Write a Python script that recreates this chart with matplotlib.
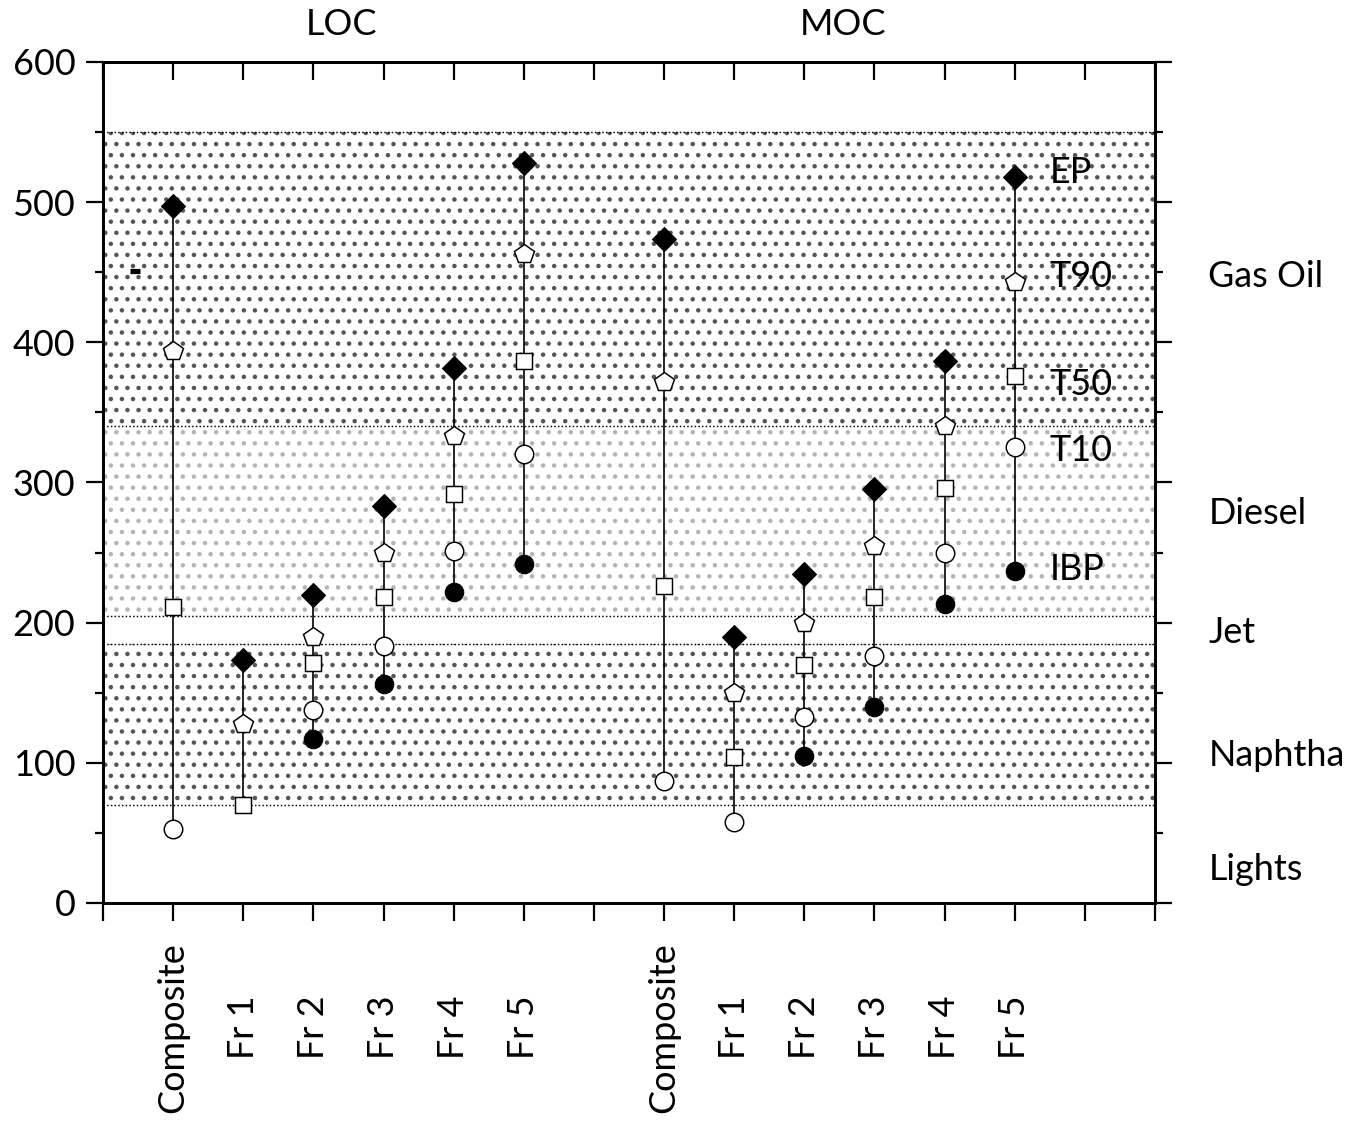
import numpy as np
import matplotlib
matplotlib.use('Agg')
import matplotlib.pyplot as plt
import matplotlib.transforms as mtransforms
from matplotlib.ticker import MultipleLocator

nan = np.nan

# sample names, two crudes
categories = ['Composite', 'Fr 1', 'Fr 2', 'Fr 3', 'Fr 4', 'Fr 5']
loc_pos = [1, 2, 3, 4, 5, 6]
moc_pos = [8, 9, 10, 11, 12, 13]

# boiling points (deg C)
loc_ep = [497, 173, 220, 283, 382, 528]
loc_t90 = [394, 128, 190, 250, 333, 463]
loc_t50 = [211, 70, 171, 218, 292, 387]
loc_t10 = [53, nan, 138, 183, 251, 320]
loc_ibp = [nan, nan, 117, 156, 222, 242]

moc_ep = [474, 190, 235, 295, 387, 518]
moc_t90 = [372, 150, 200, 255, 340, 443]
moc_t50 = [226, 104, 170, 218, 296, 376]
moc_t10 = [87, 58, 133, 176, 250, 325]
moc_ibp = [nan, nan, 105, 140, 213, 237]

# product cut ranges
band_names = ['Lights', 'Naphtha', 'Jet', 'Diesel', 'Gas Oil']
band_edges = [0, 70, 185, 205, 340, 550]
band_label_y = [24, 105, 193, 278, 447]
point_names = ['EP', 'T90', 'T50', 'T10', 'IBP']
point_label_y = [521, 447, 370, 323, 238]

plt.rcParams['font.family'] = ['Lato', 'DejaVu Sans']
plt.rcParams['hatch.linewidth'] = 1.2
FS = 19.5

fig = plt.figure(figsize=(1353 / 133, 1121 / 133), dpi=133)
ax = fig.add_axes([0.0761, 0.1945, 0.7776, 0.7502])

# shaded cut bands
band_hatch = [None, '..', None, '..', '..']
band_color = ['white', '#555555', 'white', '#b4b4b4', '#555555']
for i in range(len(band_names)):
    lo, hi = band_edges[i], band_edges[i + 1]
    if band_hatch[i]:
        ax.axhspan(lo, hi, facecolor='white', edgecolor=band_color[i],
                   hatch=band_hatch[i], lw=0, zorder=0)
for y in band_edges[1:]:
    ax.axhline(y, color='black', ls=(0, (1, 1.5)), lw=0.8, zorder=1)

# vertical range lines and markers
series = [
    (loc_pos, [loc_ep, loc_t90, loc_t50, loc_t10, loc_ibp]),
    (moc_pos, [moc_ep, moc_t90, moc_t50, moc_t10, moc_ibp]),
]
styles = [
    dict(marker='D', ms=9.2, mfc='black', mec='black', mew=0.6),
    dict(marker='p', ms=11, mfc='white', mec='black', mew=0.8),
    dict(marker='s', ms=8.5, mfc='white', mec='black', mew=0.8),
    dict(marker='o', ms=10, mfc='white', mec='black', mew=0.8),
    dict(marker='o', ms=10, mfc='black', mec='black', mew=0.6),
]
for pos, vals in series:
    arr = np.array(vals, dtype=float)
    ax.vlines(pos, np.nanmin(arr, axis=0), np.nanmax(arr, axis=0),
              color='black', lw=0.9, zorder=2)
    for v, st in zip(vals, styles):
        ax.plot(pos, v, ls='none', zorder=3, **st)

# stray mark near the top-left
ax.plot([0.46], [451], marker='_', ms=5.5, mew=2.8, color='black', zorder=3)

ax.set_xlim(0, 15)
ax.set_ylim(0, 600)

for s in ax.spines.values():
    s.set_linewidth(1.6)

ax.yaxis.set_major_locator(MultipleLocator(100))
ax.yaxis.set_minor_locator(MultipleLocator(50))
ax.tick_params(axis='y', which='major', direction='out', length=9, width=1.2,
               left=True, right=True, labelleft=True, labelright=False,
               labelsize=FS, pad=6)
ax.tick_params(axis='y', which='minor', direction='out', length=4.5, width=1.2,
               left=True, right=True)

xt = list(range(16))
xl = [''] * 16
for p, c in zip(loc_pos + moc_pos, categories + categories):
    xl[p] = c
ax.set_xticks(xt)
ax.set_xticklabels(xl, rotation=90, va='center', fontsize=FS)
ax.tick_params(axis='x', which='major', direction='out', length=9.5, width=1.2,
               bottom=True, top=False, pad=58)

top = ax.secondary_xaxis('top')
top.set_xticks(xt)
top.tick_params(direction='in', length=10, width=1.2, labeltop=False)
top.spines['top'].set_linewidth(1.6)

# group titles
trans = mtransforms.blended_transform_factory(ax.transData, ax.transAxes)
ax.text(3.4, 1.044, 'LOC', transform=trans, ha='center', va='center', fontsize=FS)
ax.text(10.55, 1.044, 'MOC', transform=trans, ha='center', va='center', fontsize=FS)

# cut names on the right
for name, y in zip(band_names, band_label_y):
    ax.text(15.76, y, name, ha='left', va='center', fontsize=FS, clip_on=False)

# point names next to the last MOC sample
for name, y in zip(point_names, point_label_y):
    ax.text(13.5, y, name, ha='left', va='center', fontsize=FS, zorder=4)

fig.savefig('out.png', dpi=133, facecolor='white')
